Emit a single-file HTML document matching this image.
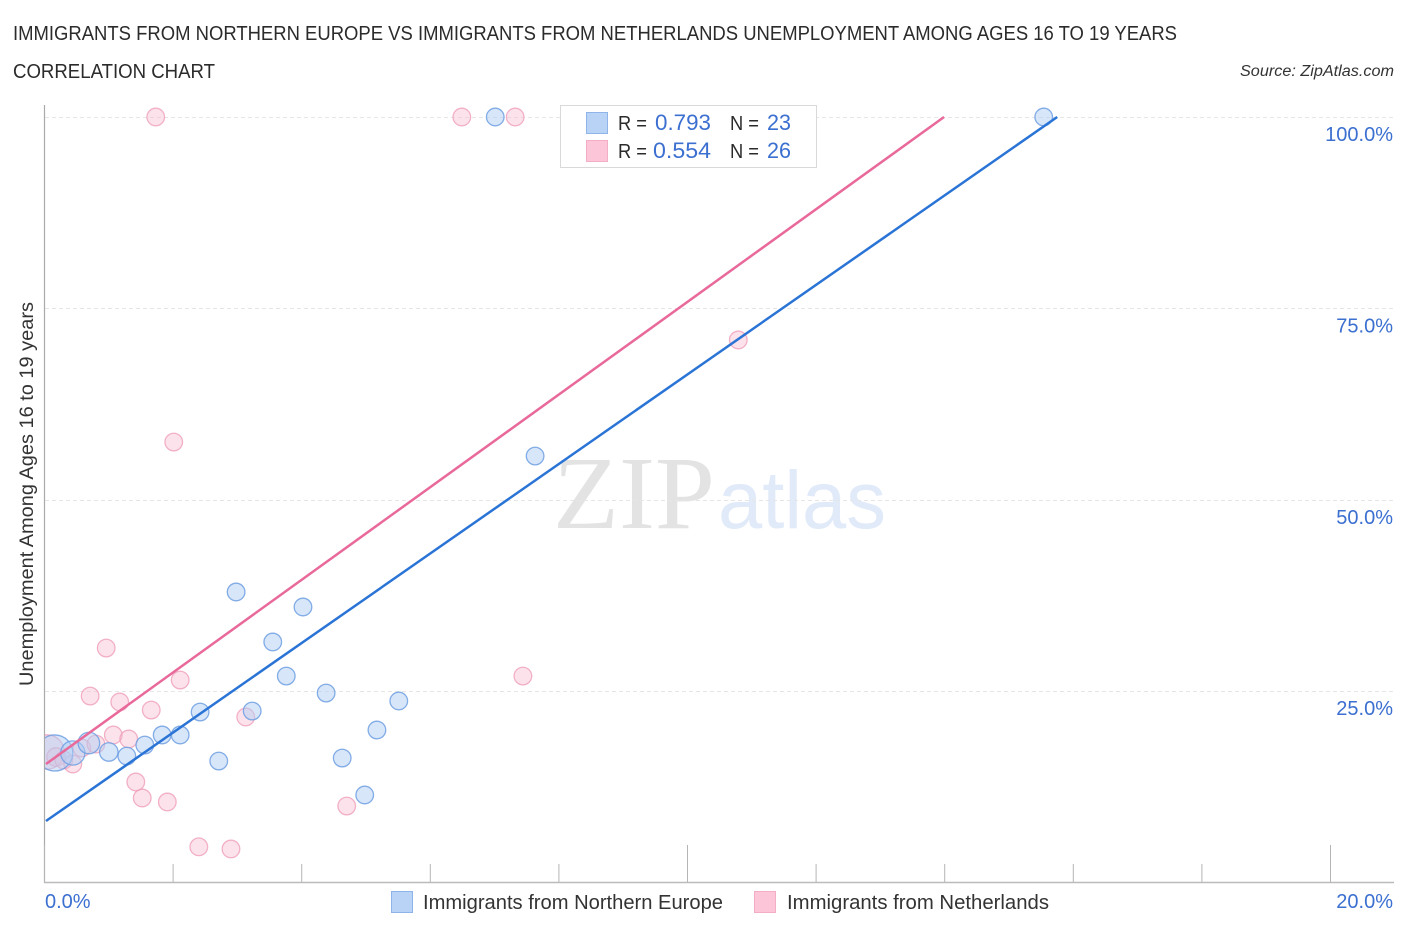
<!DOCTYPE html>
<html lang="en">
<head>
<meta charset="utf-8">
<title>Immigrants from Northern Europe vs Immigrants from Netherlands Unemployment Correlation Chart</title>
<style>
html,body{margin:0;padding:0;background:#fff;width:1406px;height:930px;overflow:hidden}
svg{display:block}
text{font-family:"Liberation Sans",sans-serif}
</style>
</head>
<body>
<svg id="chart" xmlns="http://www.w3.org/2000/svg" width="1406" height="930" viewBox="0 0 1406 930">
  <defs>
    <clipPath id="plot-clip"><rect x="45" y="90" width="1350" height="792"/></clipPath>
  </defs>
  <text x="13" y="40" font-size="20" fill="#2b2b2b" textLength="1164" lengthAdjust="spacingAndGlyphs">IMMIGRANTS FROM NORTHERN EUROPE VS IMMIGRANTS FROM NETHERLANDS UNEMPLOYMENT AMONG AGES 16 TO 19 YEARS</text>
  <text x="13" y="78" font-size="20" fill="#2b2b2b" textLength="202" lengthAdjust="spacingAndGlyphs">CORRELATION CHART</text>
  <text x="1394" y="76" font-size="15.5" font-style="italic" fill="#333" text-anchor="end" textLength="154" lengthAdjust="spacingAndGlyphs">Source: ZipAtlas.com</text>

  <text x="553" y="528" font-size="104" fill="#e3e3e3" textLength="162" lengthAdjust="spacingAndGlyphs" style="font-family:'Liberation Serif',serif">ZIP</text>
  <text x="718" y="528" font-size="82" fill="#e0eaf9" textLength="168" lengthAdjust="spacingAndGlyphs">atlas</text>

  <g id="grid"></g>
  <g id="axes"></g>
  <g id="points" clip-path="url(#plot-clip)"></g>
  <g id="trends"></g>

  <text transform="translate(33,494) rotate(-90)" font-size="19" fill="#333" text-anchor="middle" textLength="384" lengthAdjust="spacingAndGlyphs">Unemployment Among Ages 16 to 19 years</text>

  <g>
    <rect x="560.5" y="105.5" width="256" height="62" fill="#fff" stroke="#d9d9d9" stroke-width="1"/>
    <rect x="586.5" y="112.5" width="21" height="21" fill="#b9d3f6" stroke="#8fb4ea"/>
    <rect x="586.5" y="140.5" width="21" height="21" fill="#fcc6d8" stroke="#f3aec5"/>
    <text x="618" y="130" font-size="20" fill="#2b2b2b" textLength="29" lengthAdjust="spacingAndGlyphs">R =</text>
    <text x="655" y="130" font-size="22" fill="#3b6fd0" textLength="56" lengthAdjust="spacingAndGlyphs">0.793</text>
    <text x="730" y="130" font-size="20" fill="#2b2b2b" textLength="29" lengthAdjust="spacingAndGlyphs">N =</text>
    <text x="767" y="130" font-size="22" fill="#3b6fd0" textLength="24" lengthAdjust="spacingAndGlyphs">23</text>
    <text x="618" y="158" font-size="20" fill="#2b2b2b" textLength="29" lengthAdjust="spacingAndGlyphs">R =</text>
    <text x="653" y="158" font-size="22" fill="#3b6fd0" textLength="58" lengthAdjust="spacingAndGlyphs">0.554</text>
    <text x="730" y="158" font-size="20" fill="#2b2b2b" textLength="29" lengthAdjust="spacingAndGlyphs">N =</text>
    <text x="767" y="158" font-size="22" fill="#3b6fd0" textLength="24" lengthAdjust="spacingAndGlyphs">26</text>
  </g>

  <g>
    <rect x="391.5" y="891.5" width="21" height="21" fill="#b9d3f6" stroke="#8fb4ea"/>
    <text x="423" y="909" font-size="20" fill="#333" textLength="300" lengthAdjust="spacingAndGlyphs">Immigrants from Northern Europe</text>
    <rect x="754.5" y="891.5" width="21" height="21" fill="#fcc6d8" stroke="#f3aec5"/>
    <text x="787" y="909" font-size="20" fill="#333" textLength="262" lengthAdjust="spacingAndGlyphs">Immigrants from Netherlands</text>
  </g>
</svg>
<script>
const yTickValues = [25, 50, 75, 100];
const yTickLabels = ["25.0%", "50.0%", "75.0%", "100.0%"];
const xTickValues = [0, 2, 4, 6, 8, 10, 12, 14, 16, 18, 20];
const xMajorTicks = [0, 10, 20];
const xEndValues = [0, 20];
const xEndLabels = ["0.0%", "20.0%"];

const blueX = [0.16, 0.44, 0.69, 1.00, 1.28, 1.56, 1.83, 2.11, 2.42, 2.71, 3.23, 2.98, 3.55, 3.76, 4.02, 4.38, 4.63, 4.98, 5.17, 5.51, 7.63, 7.01, 15.54];
const blueY = [16.92, 16.92, 18.22, 17.05, 16.52, 17.96, 19.27, 19.27, 22.27, 15.87, 22.40, 37.95, 31.42, 26.97, 35.99, 24.75, 16.26, 11.43, 19.92, 23.71, 55.71, 100, 100];
const blueWeight = [4.2, 1.9, 1.5, 1.1, 1, 1, 1, 1, 1, 1, 1, 1, 1, 1, 1, 1, 1, 1, 1, 1, 1, 1, 1];

const pinkX = [0.04, 0.18, 0.30, 0.44, 0.58, 0.71, 0.80, 0.96, 1.07, 1.17, 1.31, 1.42, 1.52, 1.66, 1.73, 1.91, 2.01, 2.11, 2.40, 2.90, 3.13, 4.70, 6.49, 7.32, 7.44, 10.79];
const pinkY = [17.05, 16.39, 16.00, 15.48, 17.57, 24.36, 18.09, 30.63, 19.27, 23.58, 18.75, 13.13, 11.04, 22.53, 100, 10.52, 57.54, 26.45, 4.66, 4.38, 21.62, 9.99, 100, 100, 26.97, 70.87];
const pinkWeight = [3.8, 1.1, 1, 1, 1, 1, 1, 1, 1, 1, 1, 1, 1, 1, 1, 1, 1, 1, 1, 1, 1, 1, 1, 1, 1, 1];

const blueTrendX = [0.023, 15.75];
const blueTrendY = [8.03, 100];
const pinkTrendX = [0.023, 13.99];
const pinkTrendY = [15.48, 100];

const NS = "http://www.w3.org/2000/svg";
function xScale(v) { return 44.5 + v * 64.3; }
function yScale(v) { return 882.5 - v * 7.655; }
function rScale(w) { return 8.8 * Math.sqrt(w); }
function make(tag, parent, attrs, text) {
  const el = document.createElementNS(NS, tag);
  for (const k in attrs) el.setAttribute(k, attrs[k]);
  if (text !== undefined) el.textContent = text;
  parent.appendChild(el);
  return el;
}
const gridG = document.getElementById("grid");
const axesG = document.getElementById("axes");
const pointsG = document.getElementById("points");
const trendsG = document.getElementById("trends");

yTickValues.forEach(function (v, i) {
  const gy = Math.round(yScale(v)) + 0.5;
  const line = make("line", gridG, {x1: 45, x2: 1393, y1: gy, y2: gy, stroke: "#e6e6e6", "stroke-width": 1, "stroke-dasharray": "4 3"});
  
  
  const label = make("text", axesG, {x: 1393, y: yScale(v) + 24, "font-size": 20, fill: "#3b6fd0", "text-anchor": "end"}, yTickLabels[i]);
  
  
});

const yAxis = make("line", axesG, {x1: 44.5, x2: 44.5, y1: 105, y2: 883, stroke: "#aaa", "stroke-width": 1.2});


const xAxis = make("line", axesG, {x1: 44, x2: 1394, y1: 882.5, y2: 882.5, stroke: "#bbb", "stroke-width": 1.5});



xTickValues.forEach(function (v) {
  const isMajor = xMajorTicks.indexOf(v) !== -1;
  const tick = make("line", axesG, {x1: xScale(v), x2: xScale(v), y1: isMajor ? 845 : 864, y2: 882, stroke: "#b5b5b5", "stroke-width": 1});
  
  
});

xEndValues.forEach(function (v, i) {
  const label = make("text", axesG, {x: v === 0 ? 45 : 1393, y: 908, "font-size": 20, fill: "#3b6fd0", "text-anchor": v === 0 ? "start" : "end"}, xEndLabels[i]);
  
  
});

pinkX.forEach(function (v, i) {
  const c = make("circle", pointsG, {cx: xScale(v), cy: yScale(pinkY[i]), r: rScale(pinkWeight[i]), fill: "#f9bcd0", "fill-opacity": 0.42, stroke: "#ef9fba", "stroke-opacity": 0.8, "stroke-width": 1.3});
  
  
});

blueX.forEach(function (v, i) {
  const c = make("circle", pointsG, {cx: xScale(v), cy: yScale(blueY[i]), r: rScale(blueWeight[i]), fill: "#b0cdf4", "fill-opacity": 0.5, stroke: "#6f9fe2", "stroke-opacity": 0.85, "stroke-width": 1.3});
  
  
});

const pinkLine = make("line", trendsG, {x1: xScale(pinkTrendX[0]), y1: yScale(pinkTrendY[0]), x2: xScale(pinkTrendX[1]), y2: yScale(pinkTrendY[1]), stroke: "#e8699a", "stroke-width": 2.5});


const blueLine = make("line", trendsG, {x1: xScale(blueTrendX[0]), y1: yScale(blueTrendY[0]), x2: xScale(blueTrendX[1]), y2: yScale(blueTrendY[1]), stroke: "#2a74d6", "stroke-width": 2.5});


</script>
</body>
</html>
